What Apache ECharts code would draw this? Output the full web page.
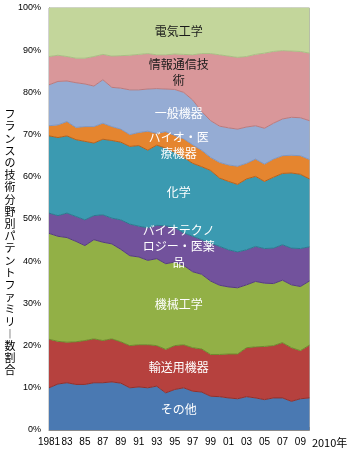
<!DOCTYPE html>
<html>
<head>
<meta charset="utf-8">
<script src="https://cdn.jsdelivr.net/npm/echarts@6/dist/echarts.min.js"></script>
<style>
  html, body { margin: 0; padding: 0; background: #fff; }
  #main { width: 350px; height: 456px; }
</style>
</head>
<body>
<div id="main"></div>
<script>
// 年 (1981-2010)
const years = ['1981','1982','1983','1984','1985','1986','1987','1988','1989','1990',
  '1991','1992','1993','1994','1995','1996','1997','1998','1999','2000',
  '2001','2002','2003','2004','2005','2006','2007','2008','2009','2010'];

// 各分野の割合 (%), 下から順に
const sonota = [10.0,10.9,11.2,10.8,10.8,11.2,11.2,11.4,11.1,10.0,10.2,10.0,10.4,8.8,9.6,10.0,9.2,9.0,8.0,7.9,7.6,7.4,7.9,7.6,7.2,7.6,7.6,6.8,7.4,7.6];
const yusou = [11.5,10.1,9.6,10.1,10.4,10.4,10.0,10.2,9.8,10.0,10.0,10.2,9.6,10.3,10.4,10.2,10.3,10.2,9.9,10.0,10.4,10.6,11.6,12.1,12.6,12.4,13.1,12.7,11.4,12.5];
const kikai = [25.1,24.9,24.8,23.8,22.5,23.5,23.3,22.5,21.9,21.3,20.8,20.0,20.6,20.3,19.8,18.8,18.0,17.7,17.4,16.4,15.9,15.7,14.9,15.5,15.0,14.7,14.8,14.9,15.2,15.2];
const biotech = [4.8,4.9,5.8,5.9,6.1,5.7,6.5,6.1,7.0,7.5,7.3,7.7,7.9,9.0,8.2,7.7,8.4,8.2,9.0,9.2,8.8,8.5,8.3,8.3,8.2,8.4,8.4,8.7,9.0,8.1];
const kagaku = [18.3,18.5,18.3,18.2,18.6,17.2,17.9,18.4,18.4,18.4,19.1,18.4,19.0,18.4,17.8,17.9,17.3,17.3,17.2,16.2,16.2,16.0,16.8,16.6,15.9,16.8,16.9,17.8,17.6,16.1];
const iryou = [2.4,3.0,3.4,2.9,3.5,3.9,3.8,3.3,3.1,2.8,3.1,4.5,2.8,3.9,4.0,4.4,4.4,3.9,3.1,3.7,3.9,4.3,3.7,4.1,4.1,4.3,4.2,4.2,4.4,4.6];
const ippan = [9.7,10.3,9.6,10.6,10.1,9.6,10.3,9.3,9.7,10.6,10.1,10.0,10.6,10.1,10.9,11.0,10.6,9.2,8.7,8.6,8.8,8.8,8.6,7.9,8.5,8.5,8.7,9.0,9.0,9.2];
const jouhou = [6.7,6.2,5.8,5.8,6.1,7.0,6.0,7.4,7.7,8.2,8.4,8.4,8.0,8.1,8.4,9.0,10.7,13.7,15.9,16.9,17.0,17.0,16.7,16.9,17.8,17.0,16.2,15.7,15.7,16.0];
const denki = [11.5,11.2,11.5,11.9,11.9,11.5,11.0,11.4,11.3,11.2,11.0,10.8,11.1,11.1,10.9,11.0,11.1,10.8,10.8,11.1,11.4,11.7,11.5,11.0,10.7,10.3,10.1,10.2,10.3,10.7];

const yTitle = 'フランスの技術分野別パテントファミリー数割合';

const layers = [
  { name: 'その他', values: sonota, color: '#4a79b2', line: '#8e302d', label: 'その他', text: '#fff' },
  { name: '輸送用機器', values: yusou, color: '#b6413e', line: '#6d8a2c', label: '輸送用機器', text: '#fff' },
  { name: '機械工学', values: kikai, color: '#92b046', line: '#553c7e', label: '機械工学', text: '#fff' },
  { name: 'バイオテクノロジー・医薬品', values: biotech, color: '#72529c', line: '#2a7a8f', label: 'バイオテクノ\nロジー・医薬\n品', text: '#fff' },
  { name: '化学', values: kagaku, color: '#3b9ab1', line: '#b5611c', label: '化学', text: '#fff' },
  { name: 'バイオ・医療機器', values: iryou, color: '#e5852f', line: '#7f96c0', label: 'バイオ・医\n療機器', text: '#fff' },
  { name: '一般機器', values: ippan, color: '#95acd4', line: '#b87a7e', label: '一般機器', text: '#fff' },
  { name: '情報通信技術', values: jouhou, color: '#d9979a', line: '#a9bf84', label: '情報通信技\n術', text: '#1a1a1a' },
  { name: '電気工学', values: denki, color: '#c3d69b', line: '#c3d69b', label: '電気工学', text: '#1a1a1a' }
];

const cjk = '"Noto Sans CJK JP", sans-serif';

const option = {
  animation: false,
  backgroundColor: '#fff',
  grid: {
    show: true,
    left: 49,
    right: 32,
    top: 8,
    bottom: 26,
    borderColor: '#a6a6a6',
    borderWidth: 1
  },
  xAxis: {
    type: 'category',
    boundaryGap: false,
    data: years,
    name: '2010年',
    nameLocation: 'end',
    nameGap: 0,
    nameTextStyle: {
      color: '#000',
      fontSize: 11,
      fontFamily: cjk,
      verticalAlign: 'top',
      padding: [7, 0, 0, 0]
    },
    axisLine: { lineStyle: { color: '#8c8c8c' } },
    axisTick: { show: true, inside: true, length: 3, interval: 0, lineStyle: { color: '#8c8c8c' } },
    axisLabel: {
      interval: (i) => i % 2 === 0 && i < years.length - 1,
      showMinLabel: true,
      formatter: (v, i) => (i === 0 ? v : v.slice(2)),
      color: '#000',
      fontSize: 10,
      fontFamily: 'Liberation Sans, Arial, sans-serif',
      margin: 7
    },
    splitLine: { show: false }
  },
  yAxis: {
    type: 'value',
    min: 0,
    max: 100,
    interval: 10,
    axisLine: { show: true, lineStyle: { color: '#8c8c8c' } },
    axisTick: { show: true, inside: true, length: 3, lineStyle: { color: '#8c8c8c' } },
    axisLabel: {
      formatter: '{value}%',
      color: '#000',
      fontSize: 9,
      fontFamily: 'Liberation Sans, Arial, sans-serif',
      margin: 8
    },
    splitLine: { show: false }
  },
  series: layers.map((l) => ({
    name: l.name,
    type: 'line',
    stack: 'share',
    data: l.values,
    showSymbol: false,
    symbol: 'none',
    lineStyle: { width: 1, color: l.line },
    itemStyle: { color: l.color },
    areaStyle: { color: l.color, opacity: 1 }
  })),
  graphic: [{
    type: 'text',
    x: 10,
    y: 108,
    style: {
      text: yTitle.split('').map((c) => (c === 'ー' ? '︱' : c)).join('\n'),
      fill: '#000',
      fontSize: 11,
      fontFamily: cjk,
      lineHeight: 12.2,
      align: 'center',
      verticalAlign: 'top'
    }
  }]
};

const chart = echarts.init(document.getElementById('main'), null, { renderer: 'canvas' });
chart.setOption(option);

// 各帯の中央にラベルを置く (1995〜1996年の間)
const t = 0.44;
const xa = chart.convertToPixel({ xAxisIndex: 0 }, years[14]);
const xb = chart.convertToPixel({ xAxisIndex: 0 }, years[15]);
const lx = xa + (xb - xa) * t;
let base = 0;
const labels = layers.map((l) => {
  const v = l.values[14] + (l.values[15] - l.values[14]) * t;
  const mid = base + v / 2;
  base += v;
  return {
    type: 'text',
    x: lx,
    y: chart.convertToPixel({ yAxisIndex: 0 }, mid),
    z: 100,
    style: {
      text: l.label,
      fill: l.text,
      fontSize: 12,
      fontFamily: cjk,
      lineHeight: 16,
      align: 'center',
      verticalAlign: 'middle'
    }
  };
});
chart.setOption({ graphic: option.graphic.concat(labels) });
</script>
</body>
</html>
